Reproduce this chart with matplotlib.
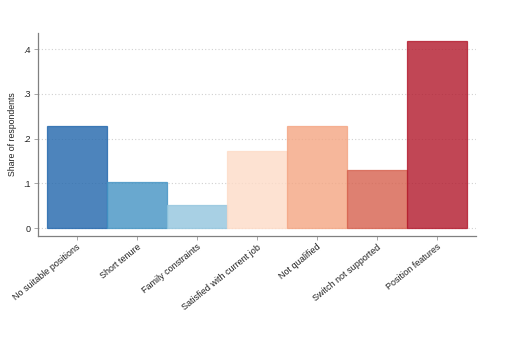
import numpy as np
import matplotlib.pyplot as plt

plt.rcParams['font.family'] = ['Liberation Sans', 'DejaVu Sans']

reasons = ['No suitable positions', 'Short tenure', 'Family constraints',
           'Satisfied with current job', 'Not qualified', 'Switch not supported',
           'Position features']
share = [0.229, 0.103, 0.052, 0.172, 0.228, 0.130, 0.418]
colors = ['#2166ac', '#4393c3', '#92c5de', '#fddbc7', '#f4a582', '#d6604d', '#b2182b']

yticks = [0, 0.1, 0.2, 0.3, 0.4]
ytick_labels = ['0', '.1', '.2', '.3', '.4']

fig = plt.figure(figsize=(5.1, 3.4), dpi=100)
ax = fig.add_axes([0.0745, 0.307, 0.859, 0.596])

x = np.arange(len(reasons))
for xi, v, c in zip(x, share, colors):
    ax.bar(xi, v, width=1.0, color=c, alpha=0.8, edgecolor=c, linewidth=0.9, zorder=3)

ax.set_xlim(-0.645, 6.655)
ax.set_ylim(-0.017, 0.436)
ax.set_yticks(yticks)
ax.set_yticklabels(ytick_labels)
ax.set_xticks(x)
ax.set_xticklabels(reasons, rotation=39, ha='right', rotation_mode='anchor')

ax.yaxis.grid(True, linestyle=(0, (1, 2)), color='#d0d0d0', linewidth=0.8, zorder=0)
ax.set_ylabel('Share of respondents', fontsize=6.3, color='#222222', labelpad=5)

for s in ['top', 'right']:
    ax.spines[s].set_visible(False)
for s in ['left', 'bottom']:
    ax.spines[s].set_color('#808080')
    ax.spines[s].set_linewidth(0.9)
ax.tick_params(axis='both', labelsize=6.5, colors='#999999', labelcolor='#222222',
               length=3, width=0.6, pad=2)

fig.savefig('out.png', dpi=100)
